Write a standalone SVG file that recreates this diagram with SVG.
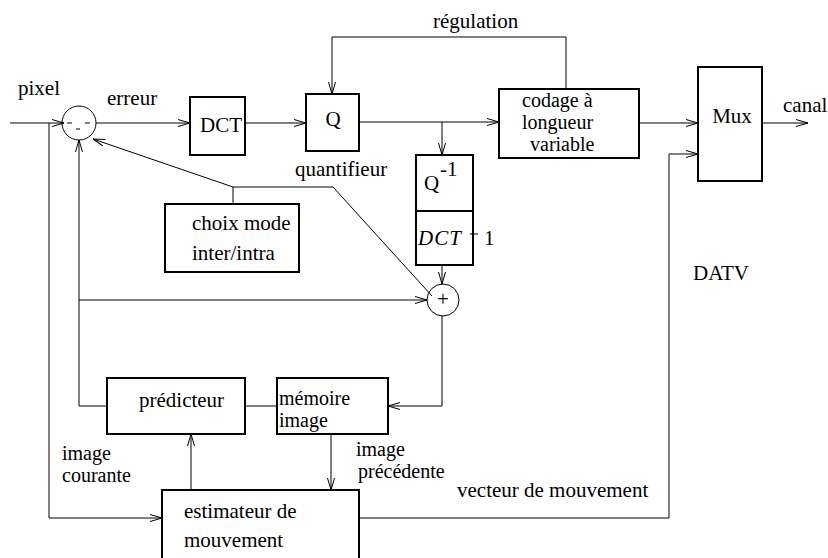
<svg xmlns="http://www.w3.org/2000/svg" width="828" height="558" viewBox="0 0 828 558">
<style>
.box{fill:#fff;stroke:#000;stroke-width:2}
.ln{fill:none;stroke:#000;stroke-width:1}
text{font-family:"Liberation Serif","Times New Roman","DejaVu Serif",serif;font-size:21px;fill:#000}
.m{font-size:20px}
.it{font-style:italic;letter-spacing:1px}
</style>
<defs>
<marker id="a" viewBox="0 0 12 8" refX="12" refY="4" markerWidth="12" markerHeight="8" markerUnits="userSpaceOnUse" orient="auto">
<path d="M0,0.5 L12,4 L0,7.5" fill="none" stroke="#000" stroke-width="1"/>
</marker>
</defs>
<g id="connectors" class="ln">
<line x1="10" y1="123" x2="64" y2="123" marker-end="url(#a)"/>
<line x1="96" y1="123" x2="190" y2="123" marker-end="url(#a)"/>
<line x1="245" y1="123" x2="306" y2="123" marker-end="url(#a)"/>
<line x1="359" y1="122" x2="499" y2="122" marker-end="url(#a)"/>
<polyline points="566,89 566,37 332,37 332,94" marker-end="url(#a)"/>
<line x1="442" y1="122" x2="442" y2="155" marker-end="url(#a)"/>
<line x1="639" y1="123" x2="698" y2="123" marker-end="url(#a)"/>
<line x1="762" y1="123" x2="808" y2="123" marker-end="url(#a)"/>
<line x1="442" y1="265" x2="442" y2="284" marker-end="url(#a)"/>
<line x1="79" y1="300" x2="427" y2="300" marker-end="url(#a)"/>
<polyline points="442,316 442,406 388,406" marker-end="url(#a)"/>
<line x1="49" y1="123" x2="49" y2="518"/>
<line x1="49" y1="518" x2="162" y2="518" marker-end="url(#a)"/>
<polyline points="107,406 79,406 79,140" marker-end="url(#a)"/>
<line x1="245" y1="406" x2="277" y2="406"/>
<line x1="331" y1="434" x2="331" y2="490" marker-end="url(#a)"/>
<line x1="191" y1="490" x2="191" y2="434" marker-end="url(#a)"/>
<polyline points="359,518 669,518 669,154 698,154" marker-end="url(#a)"/>
<line x1="233" y1="204" x2="233" y2="187"/>
<line x1="233" y1="187" x2="93" y2="139" marker-end="url(#a)"/>
<polyline points="233,187 333,187 432,296"/>
</g>
<g id="sub">
<circle cx="79" cy="123" r="17" class="ln" stroke-width="1.5"/>
<line x1="67" y1="123" x2="72" y2="123" stroke="#000"/>
<line x1="76" y1="129" x2="80" y2="129" stroke="#000"/>
<line x1="85" y1="123" x2="90" y2="123" stroke="#000"/>
</g>
<g id="dct"><rect x="190" y="97" width="55" height="58" class="box"/><text x="221" y="132" text-anchor="middle">DCT</text></g>
<g id="q"><rect x="306" y="94" width="53" height="57" class="box"/><text x="333" y="126" text-anchor="middle">Q</text></g>
<g id="codage"><rect x="499" y="89" width="140" height="69" class="box"/>
<text x="522" y="107" class="m">codage à</text><text x="522" y="129" class="m">longueur</text><text x="530" y="151" class="m">variable</text></g>
<g id="mux"><rect x="698" y="67" width="64" height="114" class="box"/><text x="732" y="123" text-anchor="middle">Mux</text></g>
<g id="inv"><rect x="416" y="155" width="57" height="110" class="box"/><line x1="416" y1="211" x2="473" y2="211" stroke="#000" stroke-width="2"/>
<text x="424" y="190">Q</text><text x="440" y="176">-1</text>
<text x="418" y="245" class="it" font-size="19">DCT</text><line x1="470" y1="234" x2="478" y2="234" stroke="#000" stroke-width="1"/><text x="484" y="245" font-size="19">1</text></g>
<g id="plus"><circle cx="443" cy="300" r="16" class="ln"/><text x="443" y="306" text-anchor="middle" font-size="16">+</text></g>
<g id="choix"><rect x="165" y="204" width="134" height="68" class="box"/><text x="192" y="230">choix mode</text><text x="192" y="260">inter/intra</text></g>
<g id="predicteur"><rect x="107" y="378" width="138" height="56" class="box"/><text x="139" y="407">prédicteur</text></g>
<g id="memoire"><rect x="277" y="378" width="111" height="56" class="box"/><text x="279" y="405" class="m">mémoire</text><text x="279" y="427" class="m">image</text></g>
<g id="estimateur"><rect x="162" y="490" width="197" height="70" class="box"/><text x="184" y="518">estimateur de</text><text x="184" y="547">mouvement</text></g>
<g id="labels">
<text x="18" y="95">pixel</text>
<text x="107" y="105">erreur</text>
<text x="433" y="28">régulation</text>
<text x="295" y="176">quantifieur</text>
<text x="783" y="112">canal</text>
<text x="693" y="280">DATV</text>
<text x="62" y="460" class="m">image</text>
<text x="62" y="482" class="m">courante</text>
<text x="356" y="456" class="m">image</text>
<text x="358" y="478" class="m">précédente</text>
<text x="457" y="497">vecteur de mouvement</text>
</g>
</svg>
